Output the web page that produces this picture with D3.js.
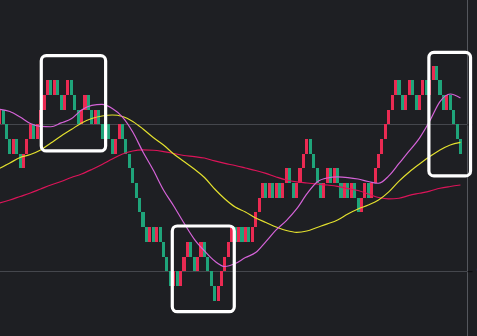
<!DOCTYPE html>
<html>
<head>
<meta charset="utf-8">
<script src="https://cdn.jsdelivr.net/npm/d3@7"></script>
<style>
  html, body { margin: 0; padding: 0; background: #1e1f23; overflow: hidden; }
  svg { display: block; }
</style>
</head>
<body>
<svg id="chart" width="477" height="336"></svg>
<script>
// Renko bricks (one-brick reversal): opening price of the first brick and each brick's close
const brickSize = 0.1;
const firstOpen = 10.0;
const brickClose = [
  10.1, 10.0, 9.9, 9.8, 9.9, 9.8, 9.7, 9.8, 9.9, 10.0, 9.9, 10.0,
  10.1, 10.2, 10.3, 10.2, 10.3, 10.2, 10.1, 10.2, 10.3, 10.2, 10.1, 10.0,
  10.1, 10.2, 10.1, 10.0, 10.1, 10.0, 9.9, 10.0, 9.9, 9.8, 9.9, 10.0,
  9.9, 9.8, 9.7, 9.6, 9.5, 9.4, 9.3, 9.2, 9.3, 9.2, 9.3, 9.2,
  9.1, 9.0, 8.9, 9.0, 8.9, 9.0, 9.1, 9.2, 9.1, 9.0, 9.1, 9.2,
  9.1, 9.0, 8.9, 8.8, 8.9, 9.0, 9.1, 9.2, 9.3, 9.2, 9.3, 9.2,
  9.3, 9.2, 9.3, 9.4, 9.5, 9.6, 9.5, 9.6, 9.5, 9.6, 9.5, 9.6,
  9.7, 9.6, 9.5, 9.6, 9.7, 9.8, 9.9, 9.8, 9.7, 9.6, 9.5, 9.6,
  9.7, 9.6, 9.7, 9.6, 9.5, 9.6, 9.5, 9.6, 9.5, 9.4, 9.5, 9.6,
  9.5, 9.6, 9.7, 9.8, 9.9, 10.0, 10.1, 10.2, 10.3, 10.2, 10.1, 10.2,
  10.3, 10.2, 10.1, 10.2, 10.3, 10.2, 10.3, 10.4, 10.3, 10.2, 10.1, 10.2,
  10.1, 10.0, 9.9, 9.8
];

// Moving averages sampled every third brick
const maIndex = [
  0, 3, 6, 9, 12, 15, 18, 21, 24, 27, 30, 33, 36, 39, 42, 45,
  48, 51, 54, 57, 60, 63, 66, 69, 72, 75, 78, 81, 84, 87, 90, 93,
  96, 99, 102, 105, 108, 111, 114, 117, 120, 123, 126, 129, 132, 135
];
const maFast = [
  10.103, 10.088, 10.050, 10.006, 9.986, 9.984, 10.010, 10.038, 10.098, 10.129, 10.136, 10.108,
  10.050, 9.948, 9.812, 9.689, 9.553, 9.444, 9.328, 9.219, 9.138, 9.069, 9.032, 9.052,
  9.093, 9.127, 9.202, 9.281, 9.345, 9.424, 9.526, 9.608, 9.635, 9.642, 9.638, 9.628,
  9.611, 9.599, 9.649, 9.734, 9.819, 9.907, 10.023, 10.155, 10.207, 10.180
];
const maMid = [
  9.701, 9.737, 9.775, 9.795, 9.826, 9.873, 9.921, 9.965, 10.010, 10.040, 10.057, 10.064,
  10.054, 10.020, 9.969, 9.911, 9.860, 9.798, 9.747, 9.696, 9.638, 9.560, 9.492, 9.437,
  9.403, 9.362, 9.332, 9.301, 9.277, 9.265, 9.274, 9.298, 9.322, 9.349, 9.390, 9.424,
  9.451, 9.485, 9.540, 9.614, 9.676, 9.730, 9.781, 9.826, 9.860, 9.877
];
const maSlow = [
  9.465, 9.485, 9.509, 9.533, 9.560, 9.587, 9.611, 9.638, 9.662, 9.693, 9.727, 9.764,
  9.798, 9.819, 9.826, 9.824, 9.815, 9.802, 9.788, 9.781, 9.771, 9.751, 9.734, 9.720,
  9.703, 9.686, 9.666, 9.642, 9.621, 9.608, 9.601, 9.594, 9.587, 9.578, 9.563, 9.550,
  9.526, 9.502, 9.492, 9.497, 9.516, 9.531, 9.546, 9.565, 9.577, 9.587
];

// Price axis ticks
const priceTicks = [9.0, 10.0];
const priceTickLabels = ["9.00", "10.00"];

// Highlighted zones: brick index span and price span
const zoneFrom  = [12.65, 51.03, 126.2];
const zoneTo    = [31.5, 69.19, 138.4];
const zoneHigh  = [10.468, 9.308, 10.491];
const zoneLow   = [9.819, 8.724, 9.649];

const W = 477, H = 336;
const plotRight = 467;
const colors = {
  bg: "#1e1f23",
  grid: "#45474d",
  axis: "#55575d",
  up: "#ea2a52",
  down: "#1fa47a",
  fast: "#d563d8",
  mid: "#e3e02e",
  slow: "#dc1459"
};

const svg = d3.select("#chart");
svg.append("rect").attr("width", W).attr("height", H).attr("fill", colors.bg);

const n = brickClose.length;
const x = d3.scaleBand()
  .domain(d3.range(n))
  .range([-1.9, 462.0])
  .paddingInner(0.1)
  .paddingOuter(0);
const step = x.step();
const xIdx = d3.scaleLinear().domain([0, 1]).range([x(0), x(0) + step]);

const y = d3.scaleLinear().domain([9.0, 10.0]).range([271.2, 124.4]);

// horizontal grid
svg.append("g")
  .selectAll("line")
  .data(priceTicks)
  .join("line")
  .attr("x1", 0).attr("x2", plotRight)
  .attr("y1", d => Math.round(y(d)) + 0.5)
  .attr("y2", d => Math.round(y(d)) + 0.5)
  .attr("stroke", colors.grid)
  .attr("stroke-width", 1);

// right price scale
const axis = d3.axisRight(y)
  .tickValues(priceTicks)
  .tickFormat((d, i) => priceTickLabels[i])
  .tickSize(5)
  .tickPadding(4);
const axisG = svg.append("g")
  .attr("transform", `translate(${plotRight + 0.5},0)`)
  .call(axis);
axisG.select(".domain").attr("stroke", colors.axis).attr("d", `M0,0V${H}`);
axisG.selectAll(".tick line").attr("stroke", "#0b0b0d");
axisG.selectAll(".tick text")
  .attr("fill", colors.up)
  .attr("font-family", "Roboto, 'DejaVu Sans', sans-serif")
  .attr("font-size", 10);

// bricks
const bricks = brickClose.map((c, i) => {
  const o = i === 0 ? firstOpen : brickClose[i - 1];
  return { i, open: o, close: c, up: c > o };
});
svg.append("g")
  .attr("shape-rendering", "crispEdges")
  .selectAll("rect")
  .data(bricks)
  .join("rect")
  .attr("x", d => x(d.i))
  .attr("width", x.bandwidth())
  .attr("y", d => y(Math.max(d.open, d.close)))
  .attr("height", d => y(Math.min(d.open, d.close)) - y(Math.max(d.open, d.close)))
  .attr("fill", d => d.up ? colors.up : colors.down);

// moving averages
const line = d3.line()
  .x(d => x(d[0]) + x.bandwidth() / 2)
  .y(d => y(d[1]))
  .curve(d3.curveMonotoneX);
[[maSlow, colors.slow], [maMid, colors.mid], [maFast, colors.fast]].forEach(([vals, col]) => {
  svg.append("path")
    .datum(maIndex.map((k, j) => [k, vals[j]]))
    .attr("d", line)
    .attr("fill", "none")
    .attr("stroke", col)
    .attr("stroke-width", 1.2);
});

// highlight boxes
svg.append("g")
  .selectAll("rect")
  .data(d3.range(zoneFrom.length))
  .join("rect")
  .attr("x", k => xIdx(zoneFrom[k]))
  .attr("y", k => y(zoneHigh[k]))
  .attr("width", k => xIdx(zoneTo[k]) - xIdx(zoneFrom[k]))
  .attr("height", k => y(zoneLow[k]) - y(zoneHigh[k]))
  .attr("rx", 5).attr("ry", 5)
  .attr("fill", "none")
  .attr("stroke", "#ffffff")
  .attr("stroke-width", 3.2);
</script>
</body>
</html>
